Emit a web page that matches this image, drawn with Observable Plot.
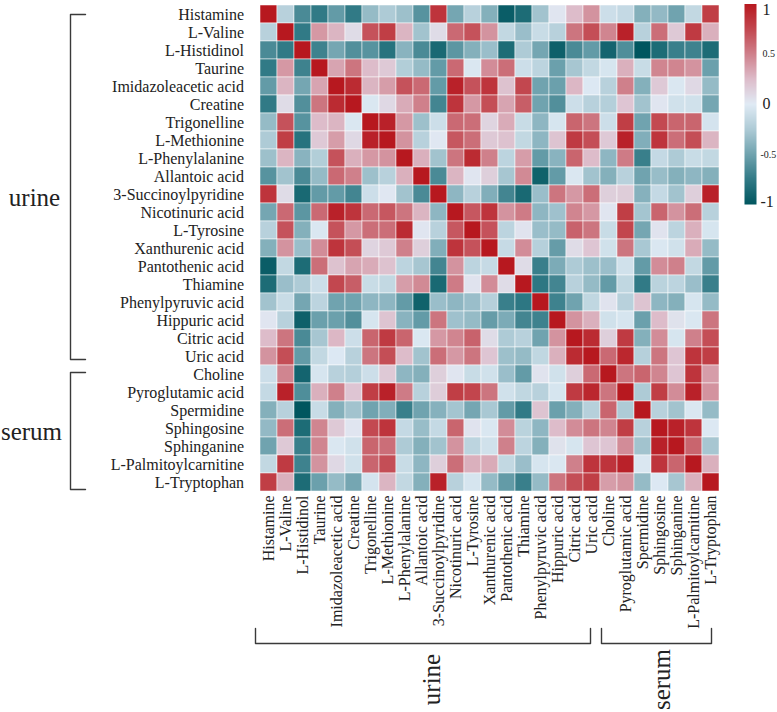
<!DOCTYPE html>
<html>
<head>
<meta charset="utf-8">
<script src="https://cdn.jsdelivr.net/npm/d3@7"></script>
<script src="https://cdn.jsdelivr.net/npm/@observablehq/plot@0.6"></script>
<style>
html,body{margin:0;padding:0;background:#fff;}
#page{position:relative;width:777px;height:712px;overflow:hidden;}
#page svg{position:absolute;left:0;top:0;background:transparent;}
</style>
</head>
<body>
<div id="page"></div>
<script>
const metabolites = ["Histamine","L-Valine","L-Histidinol","Taurine","Imidazoleacetic acid","Creatine","Trigonelline","L-Methionine","L-Phenylalanine","Allantoic acid","3-Succinoylpyridine","Nicotinuric acid","L-Tyrosine","Xanthurenic acid","Pantothenic acid","Thiamine","Phenylpyruvic acid","Hippuric acid","Citric acid","Uric acid","Choline","Pyroglutamic acid","Spermidine","Sphingosine","Sphinganine","L-Palmitoylcarnitine","L-Tryptophan"];

const rHistamine = [1,-.2,-.65,-.75,-.55,-.75,-.35,-.25,-.32,-.6,.85,-.48,-.2,-.42,-.95,-.85,-.3,.03,.25,.42,-.1,-.14,-.42,-.36,-.5,-.15,.8];
const rValine = [-.2,1,-.75,.4,.28,.08,.7,.8,.28,-.3,.08,.6,.7,.42,-.15,-.33,-.12,-.2,.55,.72,.48,.95,-.2,.58,.18,.82,.3];
const rHistidinol = [-.65,-.75,1,-.7,-.48,-.62,-.6,-.8,-.4,-.65,-.87,-.58,-.42,-.33,-.85,-.25,-.48,-.93,-.65,-.55,-.9,-.63,-1,-.85,-.72,-.7,-.85];
const rTaurine = [-.75,.4,-.7,1,.35,.55,.25,.18,-.23,-.35,-.55,.6,-.03,.45,.58,-.1,-.18,-.52,-.28,-.15,-.05,.3,-.12,.48,.48,.42,-.52];
const rImidazole = [-.55,.28,-.48,.35,1,.9,.28,.38,.7,.6,-.55,.95,.7,.85,.22,.75,-.5,-.52,.27,-.02,-.2,.5,-.42,.18,-.03,.1,-.35];
const rCreatine = [-.75,.08,-.62,.55,.9,1,-.03,.1,.32,.5,-.68,.85,.4,.72,.35,.65,-.5,-.62,-.1,-.2,-.22,.2,-.3,.03,-.08,-.08,-.48];
const rTrigonelline = [-.35,.7,-.6,.25,.28,-.03,1,.95,.4,-.32,-.1,.6,.58,.12,.32,-.12,-.38,-.05,.62,.55,-.1,.8,-.5,.74,.62,.62,-.06];
const rMethionine = [-.25,.8,-.8,.18,.38,.1,.95,1,.42,-.2,.02,.68,.58,.18,.22,-.15,-.38,.21,.82,.72,.18,.95,-.43,.85,.58,.72,.28];
const rPhenylalanine = [-.32,.28,-.4,-.23,.7,.3,.4,.42,1,.3,-.3,.55,.9,.5,-.18,.38,-.55,-.4,.62,.25,-.38,.52,-.72,-.14,-.25,-.12,-.15];
const rAllantoic = [-.6,-.3,-.65,-.35,.6,.5,-.32,-.2,.3,1,-.65,.28,.03,.15,-.28,.46,-.92,-.55,-.03,-.3,-.42,-.2,-.5,-.34,-.42,-.38,-.42];
const rSuccinoyl = [.85,.08,-.87,-.55,-.55,-.68,-.1,.02,-.3,-.65,1,-.38,-.2,-.43,-.68,-.87,-.33,.55,.4,.58,.15,.16,-.41,-.14,-.3,.15,.95];
const rNicotinuric = [-.48,.6,-.58,.6,.95,.85,.6,.68,.55,.28,-.38,1,.68,.85,.42,.52,-.38,-.31,.48,.4,.03,.8,-.29,.62,.42,.58,-.2];
const rTyrosine = [-.2,.7,-.42,-.03,.7,.4,.58,.58,.9,.03,-.2,.68,1,.7,-.18,.04,-.33,-.35,.63,.55,-.12,.76,-.48,.04,-.18,.3,-.05];
const rXanthurenic = [-.42,.42,-.33,.45,.85,.72,.12,.18,.5,.15,-.43,.85,.7,1,-.13,.45,-.21,-.54,.08,.2,-.08,.55,-.27,-.03,-.08,.32,-.35];
const rPantothenic = [-.95,-.15,-.85,.58,.22,.35,.32,.22,-.18,-.28,-.68,.42,-.18,-.13,1,.08,-.72,-.45,-.25,-.32,-.33,-.08,-.55,.45,.5,-.15,-.55];
const rThiamine = [-.85,-.33,-.25,-.1,.75,.65,-.12,-.15,.38,.46,-.87,.52,.04,.45,.08,1,-.77,-.68,-.2,-.35,-.55,-.16,-.75,-.19,-.18,-.33,-.72];
const rPhenylpyruvic = [-.3,-.12,-.48,-.18,-.5,-.5,-.38,-.38,-.55,-.92,-.33,-.38,-.33,-.21,-.72,-.77,1,-.7,-.5,-.16,.04,-.2,.21,-.38,-.42,-.05,-.35];
const rHippuric = [.03,-.2,-.93,-.52,-.52,-.62,-.05,.21,-.4,-.55,.55,-.31,-.35,-.54,-.45,-.68,-.7,1,.42,.3,-.08,-.05,-.52,.25,.05,-.03,.55];
const rCitric = [.25,.55,-.65,-.28,.27,-.1,.62,.82,.62,-.03,.4,.48,.63,.08,-.25,-.2,-.5,.42,1,.9,.15,.82,-.42,.45,-.05,.5,.72];
const rUric = [.42,.72,-.55,-.15,-.02,-.2,.55,.72,.25,-.3,.58,.4,.55,.2,-.32,-.35,-.16,.3,.9,1,.6,.92,-.21,.55,.2,.85,.8];
const rCholine = [-.1,.48,-.9,-.05,-.2,-.22,-.1,.18,-.38,-.42,.15,.03,-.12,-.08,-.33,-.55,.04,-.08,.15,.6,1,.55,.62,.48,.2,.85,.38];
const rPyroglutamic = [-.14,.95,-.63,.3,.5,.2,.8,.95,.52,-.2,.16,.8,.76,.55,-.08,-.16,-.2,-.05,.82,.92,.55,1,-.25,.8,.45,.95,.42];
const rSpermidine = [-.42,-.2,-1,-.12,-.42,-.3,-.5,-.43,-.72,-.5,-.41,-.29,-.48,-.27,-.55,-.75,.21,-.52,-.42,-.21,.62,-.25,1,-.2,-.3,-.03,-.35];
const rSphingosine = [-.36,.58,-.85,.48,.18,.03,.74,.85,-.14,-.34,-.14,.62,.04,-.03,.45,-.19,-.38,.25,.45,.55,.48,.8,-.2,1,.95,.85,-.02];
const rSphinganine = [-.5,.18,-.72,.48,-.03,-.08,.62,.58,-.25,-.42,-.3,.42,-.18,-.08,.5,-.18,-.42,.05,-.05,.2,.2,.45,-.3,.95,1,.62,-.28];
const rPalmitoyl = [-.15,.82,-.7,.42,.1,-.08,.62,.72,-.12,-.38,.15,.58,.3,.32,-.15,-.33,-.05,-.03,.5,.85,.85,.95,-.03,.85,.62,1,.3];
const rTryptophan = [.8,.3,-.85,-.52,-.35,-.48,-.06,.28,-.15,-.42,.95,-.2,-.05,-.35,-.55,-.72,-.35,.55,.72,.8,.38,.42,-.35,-.02,-.28,.3,1];

const rows = [rHistamine,rValine,rHistidinol,rTaurine,rImidazole,rCreatine,rTrigonelline,rMethionine,rPhenylalanine,rAllantoic,rSuccinoyl,rNicotinuric,rTyrosine,rXanthurenic,rPantothenic,rThiamine,rPhenylpyruvic,rHippuric,rCitric,rUric,rCholine,rPyroglutamic,rSpermidine,rSphingosine,rSphinganine,rPalmitoyl,rTryptophan];

const colorStops = [-1,-.75,-.5,-.25,0,.25,.5,.75,1];
const colorValues = ["#00565f","#317a86","#70a3af","#aecbd6","#e0ebf5","#ddbcca","#cf808b","#c2474f","#b7181f"];
const colorbarTicks = [1,.5,0,-.5,-1];
const colorbarDx = [6,6,6,4,4];
const colorbarDy = [6,0,0,0,-3];

const serif = "'Liberation Serif','Times New Roman',serif";
const color = {type:"linear", domain:colorStops, range:colorValues, clamp:true};
const cells = rows.flatMap((r,i)=>r.map((v,j)=>({row:metabolites[i],col:metabolites[j],v})));

const heat = Plot.plot({
  width:777,height:712,
  marginLeft:250.5,marginRight:48.5,marginTop:3.5,marginBottom:220,
  style:{fontFamily:serif,background:"transparent",color:"#222"},
  x:{domain:metabolites,padding:0,label:null},
  y:{domain:metabolites,padding:0,label:null},
  color,
  marks:[
    Plot.cell(cells,{x:"col",y:"row",fill:"v",stroke:"#fff",strokeWidth:0.6,strokeOpacity:0.85}),
    Plot.axisX({anchor:"bottom",tickSize:0,tickPadding:3,tickRotate:-90,fontSize:16,label:null,lineAnchor:"middle"}),
    Plot.axisY({anchor:"left",tickSize:0,tickPadding:7,fontSize:16,label:null})
  ]
});

const bar = Plot.plot({
  width:777,height:712,
  marginLeft:744,marginRight:21,marginTop:3.5,marginBottom:508,
  style:{fontFamily:serif,background:"transparent",color:"#222"},
  x:{domain:[0,1],axis:null},
  y:{domain:[-1,1],axis:null},
  color,
  marks:[
    Plot.raster({fill:(x,y)=>y,x1:0,x2:1,y1:-1,y2:1,pixelSize:1,interpolate:null}),
    ...colorbarTicks.map((t,i)=>Plot.text([t],{x:()=>1,y:d=>d,text:d=>String(d),dx:colorbarDx[i],dy:colorbarDy[i],textAnchor:"start",
      fontSize:Math.abs(t)===.5?10:16,fill:"#222"}))
  ]
});

const page = document.getElementById("page");
page.appendChild(heat);
page.appendChild(bar);

/* group brackets and labels, in page pixels */
const bracketUrineLeft = [[85,14],[70,14],[70,359],[85,359]];
const bracketSerumLeft = [[85,372],[70,372],[70,489],[85,489]];
const bracketUrineBottom = [[255,628],[255,643],[590,643],[590,628]];
const bracketSerumBottom = [[601,628],[601,643],[711,643],[711,628]];
const groupLabels = [
  {t:"urine",x:34,y:197,r:0},
  {t:"serum",x:31,y:431,r:0},
  {t:"urine",x:431,y:679,r:-90},
  {t:"serum",x:661,y:679,r:-90}
];
const overlay = Plot.plot({
  width:777,height:712,margin:0,
  style:{fontFamily:serif,background:"transparent"},
  x:{domain:[0,777],axis:null},
  y:{domain:[712,0],axis:null},
  marks:[
    ...[bracketUrineLeft,bracketSerumLeft,bracketUrineBottom,bracketSerumBottom].map(b=>
      Plot.line(b,{x:d=>d[0],y:d=>d[1],stroke:"#3a3a3a",strokeWidth:1.4,curve:"linear"})),
    Plot.text(groupLabels.filter(d=>d.r===0),{x:"x",y:"y",text:"t",fontSize:25,fill:"#222"}),
    Plot.text(groupLabels.filter(d=>d.r!==0),{x:"x",y:"y",text:"t",fontSize:25,rotate:-90,fill:"#222"})
  ]
});
page.appendChild(overlay);
</script>
</body>
</html>
